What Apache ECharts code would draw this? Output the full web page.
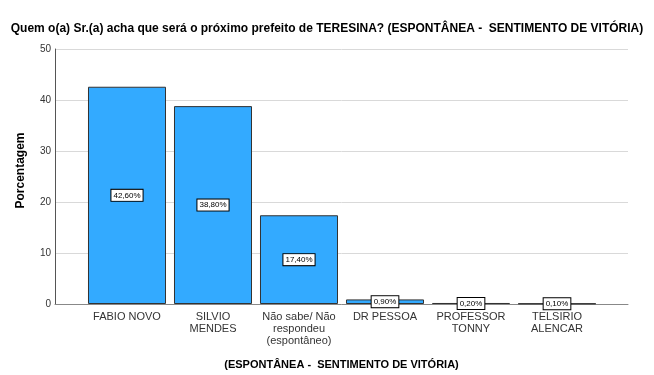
<!DOCTYPE html>
<html>
<head>
<meta charset="utf-8">
<script src="https://cdn.jsdelivr.net/npm/echarts@6/dist/echarts.min.js"></script>
<style>
  html, body { margin: 0; padding: 0; background: #fff; }
  #barre { width: 654px; height: 375px; }
</style>
</head>
<body>
<div id="barre"></div>
<script>
// Données du graphique
const categories = ['FABIO NOVO', 'SILVIO\nMENDES', 'Não sabe/ Não\nrespondeu\n(espontâneo)', 'DR PESSOA', 'PROFESSOR\nTONNY', 'TELSIRIO\nALENCAR'];
const percentages = [42.6, 38.8, 17.4, 0.9, 0.2, 0.1];
const yTicks = [0, 10, 20, 30, 40, 50];

const chart = echarts.init(document.getElementById('barre'), null, { renderer: 'canvas' });
const font = 'Liberation Sans, Arial, sans-serif';

const option = {
    animation: false,
    textStyle: { fontFamily: font },
    title: {
        text: 'Quem o(a) Sr.(a) acha que será o próximo prefeito de TERESINA? (ESPONTÂNEA -  SENTIMENTO DE VITÓRIA)',
        left: 'center',
        top: 18,
        textStyle: { fontSize: 12, fontWeight: 'bold', color: '#000', fontFamily: font }
    },
    grid: [
        // grille pour les axes et les lignes de fond
        { left: 55, right: 26, top: 49, bottom: 71, outerBoundsMode: 'none' },
        // grille pour les barres (marges internes comme SPSS)
        { left: 84, right: 54, top: 49, bottom: 71, outerBoundsMode: 'none' }
    ],
    xAxis: [
        {
            type: 'value',
            gridIndex: 0,
            min: 0,
            max: 1,
            name: '(ESPONTÂNEA -  SENTIMENTO DE VITÓRIA)',
            nameLocation: 'middle',
            nameGap: 55,
            nameTextStyle: { fontSize: 11, fontWeight: 'bold', color: '#000', fontFamily: font },
            axisLine: { show: true, lineStyle: { color: '#888', width: 1 } },
            axisTick: { show: false },
            axisLabel: { show: false },
            splitLine: { show: false }
        },
        {
            type: 'category',
            gridIndex: 1,
            data: categories,
            axisLine: { show: false },
            axisTick: { show: false },
            axisLabel: {
                interval: 0,
                margin: 7,
                fontSize: 11,
                lineHeight: 12,
                color: '#333',
                fontFamily: font
            }
        }
    ],
    yAxis: [
        {
            type: 'value',
            gridIndex: 0,
            min: yTicks[0],
            max: yTicks[yTicks.length - 1],
            interval: 10,
            name: 'Porcentagem',
            nameLocation: 'middle',
            nameGap: 28,
            nameTextStyle: { fontSize: 12, fontWeight: 'bold', color: '#000', fontFamily: font, padding: [0, 0, 0, 12] },
            axisLine: { show: true, lineStyle: { color: '#555', width: 1 } },
            axisTick: { show: false },
            axisLabel: { fontSize: 10, color: '#333', margin: 4, fontFamily: font },
            splitLine: { show: true, lineStyle: { color: '#d9d9d9', width: 1 } }
        },
        {
            type: 'value',
            gridIndex: 1,
            min: yTicks[0],
            max: yTicks[yTicks.length - 1],
            show: false
        }
    ],
    series: [
        {
            type: 'bar',
            xAxisIndex: 1,
            yAxisIndex: 1,
            data: percentages,
            barCategoryGap: '9.3%',
            itemStyle: { color: '#33aaff', borderColor: '#333', borderWidth: 1 },
            label: {
                show: true,
                position: 'inside',
                formatter: (p) => p.value.toFixed(2).replace('.', ',') + '%',
                fontSize: 8,
                color: '#000',
                backgroundColor: '#fff',
                borderColor: '#000',
                borderWidth: 1,
                padding: [2, 2, 1, 2],
                fontFamily: font
            }
        }
    ]
};

chart.setOption(option);
</script>
</body>
</html>
